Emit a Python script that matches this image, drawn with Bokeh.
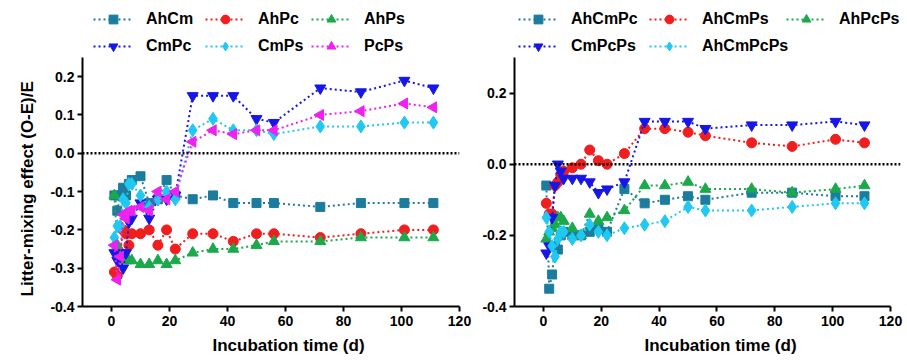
import numpy as np
from bokeh.plotting import figure
from bokeh.models import (Range1d, FixedTicker, PrintfTickFormatter, Span, Title,
                          Legend, LegendItem)
from bokeh.layouts import row
from bokeh.embed import file_html
from bokeh.resources import INLINE

# ---------------- data ----------------
days = [1, 2, 3, 4, 5, 6, 7, 10, 13, 16, 19, 22, 28, 35, 42, 50, 56, 72, 86, 101, 111]

# left panel (two-species mixtures)
AhCm = [-0.11, -0.15, -0.11, -0.09, -0.11, -0.08, -0.07, -0.06, -0.13, -0.12, -0.07, -0.11,
        -0.12, -0.11, -0.13, -0.13, -0.13, -0.14, -0.13, -0.13, -0.13]
AhPc = [-0.31, -0.32, -0.26, -0.20, -0.21, -0.24, -0.21, -0.21, -0.20, -0.24, -0.20, -0.25,
        -0.21, -0.21, -0.23, -0.21, -0.21, -0.22, -0.21, -0.20, -0.20]
AhPs = [-0.11, -0.24, -0.27, -0.27, -0.28, -0.28, -0.28, -0.29, -0.29, -0.28, -0.29, -0.28,
        -0.26, -0.25, -0.25, -0.24, -0.23, -0.23, -0.22, -0.22, -0.22]
CmPc = [-0.26, -0.28, -0.27, -0.30, -0.26, -0.18, -0.17, -0.13, -0.17, -0.12, -0.12, -0.11,
        0.15, 0.15, 0.15, 0.09, 0.08, 0.17, 0.16, 0.19, 0.17]
CmPs = [-0.22, -0.19, -0.19, -0.12, -0.13, -0.08, -0.08, -0.11, -0.14, -0.12, -0.10, -0.12,
        0.06, 0.09, 0.06, 0.06, 0.05, 0.07, 0.07, 0.08, 0.08]
PcPs = [-0.24, -0.33, -0.27, -0.16, -0.17, -0.15, -0.15, -0.14, -0.15, -0.10, -0.12, -0.10,
        0.03, 0.06, 0.05, 0.06, 0.06, 0.10, 0.11, 0.13, 0.12]

# right panel (three/four-species mixtures)
AhCmPc = [-0.06, -0.35, -0.31, -0.23, -0.24, -0.20, -0.19, -0.20, -0.20, -0.19, -0.18, -0.19,
          -0.07, -0.11, -0.10, -0.09, -0.10, -0.08, -0.08, -0.09, -0.09]
AhCmPs = [-0.11, -0.14, -0.14, -0.06, -0.05, -0.03, -0.02, -0.01, 0.00, 0.04, 0.01, 0.00,
          0.03, 0.10, 0.10, 0.09, 0.08, 0.06, 0.05, 0.07, 0.06]
AhPcPs = [-0.21, -0.19, -0.18, -0.17, -0.15, -0.15, -0.16, -0.18, -0.20, -0.14, -0.16, -0.15,
          -0.13, -0.06, -0.06, -0.05, -0.07, -0.07, -0.08, -0.07, -0.06]
CmPcPs = [-0.25, -0.23, -0.15, -0.06, 0.00, -0.02, -0.04, -0.04, -0.04, -0.05, -0.08, -0.07,
          -0.05, 0.12, 0.12, 0.12, 0.10, 0.11, 0.11, 0.12, 0.11]
AhCmPcPs = [-0.15, -0.19, -0.23, -0.26, -0.21, -0.19, -0.19, -0.21, -0.20, -0.17, -0.19, -0.20,
            -0.18, -0.17, -0.16, -0.12, -0.13, -0.13, -0.12, -0.11, -0.11]

x_ticks = [0, 20, 40, 60, 80, 100, 120]
x_axis = (-10, 120)
left_y_ticks = [-0.4, -0.3, -0.2, -0.1, 0.0, 0.1, 0.2]
right_y_ticks = [-0.4, -0.2, 0.0, 0.2]
left_y_axis = (-0.4, 0.25)
right_y_axis = (-0.4, 0.3)
x_title = "Incubation time (d)"
y_title = "Litter-mixing effect (O-E)/E"

# ---------------- styles / layout ----------------
FONT = "Liberation Sans"
TEAL, RED, GREEN, BLUE, CYAN, MAGENTA = ("#1B7C9E", "#F01E1E", "#1CA84C",
                                         "#1616E6", "#20C8F2", "#EE22EE")
STYLES = [
    dict(color=TEAL, marker="square", size=9, angle=0.0),
    dict(color=RED, marker="circle", size=10, angle=0.0),
    dict(color=GREEN, marker="triangle", size=11, angle=0.0),
    dict(color=BLUE, marker="inverted_triangle", size=11, angle=0.0),
    dict(color=CYAN, marker="diamond", size=13, angle=0.0),
    dict(color=MAGENTA, marker="triangle", size=11, angle=np.pi / 2),
]
FRAME_H = 301      # frame reaches up into the legend area
AXIS_PX = 249      # pixel length of the visible y axis


def make_panel(series, y_axis, y_ticks, legend_pos, border_left, border_right,
               axis_w, frame_w, y_label):
    lo, hi = y_axis
    top = lo + (hi - lo) * FRAME_H / AXIS_PX
    x0, x1 = x_axis
    right = x0 + (x1 - x0) * frame_w / axis_w
    p = figure(output_backend="svg", toolbar_location=None,
               frame_width=frame_w, frame_height=FRAME_H,
               min_border_left=border_left, min_border_right=border_right,
               min_border_top=5, min_border_bottom=54,
               x_range=Range1d(x0, right), y_range=Range1d(lo, top))
    p.outline_line_color = None
    p.grid.visible = False
    p.background_fill_color = "white"
    p.border_fill_color = "white"

    for ax in (p.xaxis[0], p.yaxis[0]):
        ax.axis_line_width = 2
        ax.axis_line_color = "black"
        ax.major_tick_line_width = 2
        ax.major_tick_line_color = "black"
        ax.major_tick_out = 5
        ax.major_tick_in = 0
        ax.minor_tick_line_color = None
        ax.major_label_text_font = FONT
        ax.major_label_text_font_style = "bold"
        ax.major_label_text_font_size = "14px"
        ax.major_label_text_color = "black"
    p.xaxis[0].ticker = FixedTicker(ticks=x_ticks)
    p.xaxis[0].major_label_standoff = 4
    p.xaxis[0].bounds = x_axis
    p.yaxis[0].ticker = FixedTicker(ticks=y_ticks)
    p.yaxis[0].formatter = PrintfTickFormatter(format="%.1f")
    p.yaxis[0].major_label_standoff = 3
    p.yaxis[0].bounds = y_axis

    p.add_layout(Title(text=x_title, align="left", offset=130, standoff=10,
                       text_font=FONT, text_font_style="bold",
                       text_font_size="17px", text_color="black"), "below")
    if y_label:
        p.add_layout(Title(text=y_label, align="left", offset=10, standoff=21,
                           text_font=FONT, text_font_style="bold",
                           text_font_size="17px", text_color="black"), "left")

    p.add_layout(Span(location=0, dimension="width", line_color="black",
                      line_width=2.5, line_dash="2 2"))

    for (name, vals), st, (vx, vy) in zip(series, STYLES, legend_pos):
        lr = p.line(days, vals, line_color=st["color"], line_width=2, line_dash="2 3")
        sr = p.scatter(days, vals, marker=st["marker"], size=st["size"],
                       angle=st["angle"], fill_color=st["color"], line_color=st["color"])
        leg = Legend(items=[LegendItem(label=name, renderers=[lr, sr])],
                     location=(vx, vy), orientation="horizontal",
                     glyph_width=40, glyph_height=22, label_height=22,
                     label_standoff=13, padding=0, margin=0, spacing=0,
                     border_line_color=None, background_fill_alpha=0,
                     label_text_font=FONT, label_text_font_style="bold",
                     label_text_font_size="16px", label_text_color="black")
        p.add_layout(leg)
    return p


left_series = [("AhCm", AhCm), ("AhPc", AhPc), ("AhPs", AhPs),
               ("CmPc", CmPc), ("CmPs", CmPs), ("PcPs", PcPs)]
right_series = [("AhCmPc", AhCmPc), ("AhCmPs", AhCmPs), ("AhPcPs", AhPcPs),
                ("CmPcPs", CmPcPs), ("AhCmPcPs", AhCmPcPs)]

left_pos = [(11, 276), (123, 276), (229, 276), (11, 249), (123, 249), (229, 249)]
right_pos = [(4, 276), (135, 276), (272, 276), (4, 249), (135, 249)]

p1 = make_panel(left_series, left_y_axis, left_y_ticks, left_pos, 82, 19, 377, 377, y_title)
p2 = make_panel(right_series, right_y_axis, right_y_ticks, right_pos, 36, 6, 376, 386, None)

layout = row(p1, p2)
open("out.html", "w").write(file_html(layout, INLINE))
